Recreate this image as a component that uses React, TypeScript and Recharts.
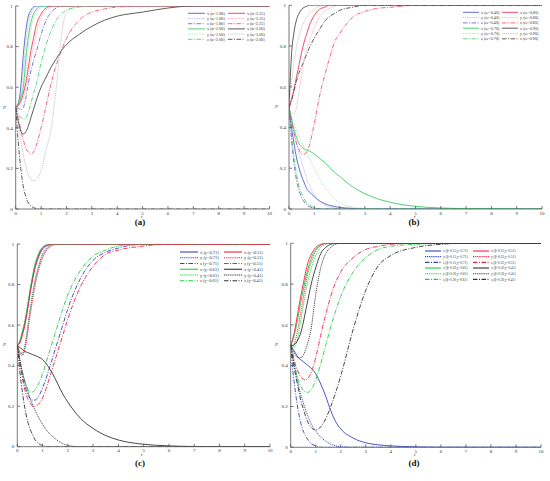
import React from 'react';
import { LineChart, Line, XAxis, YAxis, Legend } from 'recharts';

const T = [0, 0.1, 0.2, 0.3, 0.4, 0.5, 0.6, 0.7, 0.8, 1, 1.2, 1.4, 1.6, 1.8, 2, 2.5, 3, 3.5, 4, 5, 6, 7, 8, 10];
const X_TICKS = [0, 1, 2, 3, 4, 5, 6, 7, 8, 9, 10];
const Y_TICKS = [0, 0.2, 0.4, 0.6, 0.8, 1];

// Panel (a)
const aX180 = [0.5, 0.52, 0.6, 0.76, 0.88, 0.95, 0.98, 0.995, 1, 1, 1, 1, 1, 1, 1, 1, 1, 1, 1, 1, 1, 1, 1, 1];
const aY180 = [0.5, 0.51, 0.56, 0.68, 0.82, 0.91, 0.96, 0.985, 0.995, 1, 1, 1, 1, 1, 1, 1, 1, 1, 1, 1, 1, 1, 1, 1];
const aZ180 = [0.5, 0.495, 0.49, 0.5, 0.55, 0.62, 0.68, 0.73, 0.77, 0.86, 0.93, 0.97, 0.99, 1, 1, 1, 1, 1, 1, 1, 1, 1, 1, 1];
const aX200 = [0.5, 0.52, 0.55, 0.6, 0.74, 0.85, 0.92, 0.96, 0.98, 1, 1, 1, 1, 1, 1, 1, 1, 1, 1, 1, 1, 1, 1, 1];
const aY200 = [0.5, 0.51, 0.54, 0.58, 0.68, 0.8, 0.89, 0.94, 0.97, 0.99, 1, 1, 1, 1, 1, 1, 1, 1, 1, 1, 1, 1, 1, 1];
const aZ200 = [0.5, 0.47, 0.45, 0.445, 0.45, 0.48, 0.52, 0.57, 0.61, 0.72, 0.81, 0.88, 0.93, 0.96, 0.98, 0.995, 1, 1, 1, 1, 1, 1, 1, 1];
const aX225 = [0.5, 0.51, 0.53, 0.57, 0.62, 0.7, 0.78, 0.84, 0.9, 0.96, 0.99, 1, 1, 1, 1, 1, 1, 1, 1, 1, 1, 1, 1, 1];
const aY225 = [0.5, 0.5, 0.52, 0.55, 0.6, 0.66, 0.74, 0.8, 0.86, 0.94, 0.98, 0.995, 1, 1, 1, 1, 1, 1, 1, 1, 1, 1, 1, 1];
const aZ225 = [0.5, 0.45, 0.39, 0.34, 0.3, 0.28, 0.27, 0.28, 0.31, 0.4, 0.51, 0.62, 0.71, 0.78, 0.84, 0.93, 0.97, 0.985, 0.995, 1, 1, 1, 1, 1];
const aX300 = [0.5, 0.43, 0.385, 0.37, 0.38, 0.41, 0.45, 0.49, 0.53, 0.6, 0.65, 0.7, 0.74, 0.78, 0.81, 0.86, 0.9, 0.93, 0.95, 0.97, 0.99, 1, 1, 1];
const aY300 = [0.5, 0.42, 0.34, 0.27, 0.21, 0.17, 0.145, 0.14, 0.145, 0.19, 0.29, 0.4, 0.6, 0.85, 0.97, 1, 1, 1, 1, 1, 1, 1, 1, 1];
const aZ300 = [0.5, 0.33, 0.2, 0.11, 0.06, 0.03, 0.015, 0.007, 0.003, 0, 0, 0, 0, 0, 0, 0, 0, 0, 0, 0, 0, 0, 0, 0];
const aLabels = ['x (α=1.80)', 'y (α=1.80)', 'z (α=1.80)', 'x (α=2.00)', 'y (α=2.00)', 'z (α=2.00)', 'x (α=2.25)', 'y (α=2.25)', 'z (α=2.25)', 'x (α=3.00)', 'y (α=3.00)', 'z (α=3.00)'];

// Panel (b)
const bX40 = [0.5, 0.4, 0.32, 0.25, 0.2, 0.16, 0.13, 0.1, 0.085, 0.06, 0.04, 0.027, 0.018, 0.012, 0.008, 0.003, 0, 0, 0, 0, 0, 0, 0, 0];
const bY40 = [0.5, 0.44, 0.38, 0.32, 0.27, 0.23, 0.19, 0.15, 0.12, 0.07, 0.04, 0.02, 0.01, 0.004, 0, 0, 0, 0, 0, 0, 0, 0, 0, 0];
const bZ40 = [0.5, 0.34, 0.22, 0.14, 0.09, 0.055, 0.035, 0.02, 0.012, 0.004, 0, 0, 0, 0, 0, 0, 0, 0, 0, 0, 0, 0, 0, 0];
const bX70 = [0.5, 0.44, 0.39, 0.35, 0.32, 0.305, 0.295, 0.29, 0.285, 0.27, 0.25, 0.23, 0.205, 0.18, 0.16, 0.11, 0.075, 0.05, 0.033, 0.013, 0.005, 0.002, 0.001, 0];
const bY70 = [0.5, 0.46, 0.42, 0.39, 0.36, 0.33, 0.3, 0.27, 0.25, 0.2, 0.15, 0.11, 0.08, 0.05, 0.03, 0.01, 0.003, 0, 0, 0, 0, 0, 0, 0];
const bZ70 = [0.5, 0.36, 0.25, 0.17, 0.11, 0.075, 0.05, 0.03, 0.02, 0.007, 0.002, 0, 0, 0, 0, 0, 0, 0, 0, 0, 0, 0, 0, 0];
const bX80 = [0.5, 0.54, 0.59, 0.65, 0.71, 0.77, 0.82, 0.86, 0.9, 0.95, 0.98, 0.99, 1, 1, 1, 1, 1, 1, 1, 1, 1, 1, 1, 1];
const bY80 = [0.5, 0.47, 0.47, 0.5, 0.58, 0.66, 0.73, 0.78, 0.82, 0.89, 0.94, 0.97, 0.985, 0.995, 1, 1, 1, 1, 1, 1, 1, 1, 1, 1];
const bZ80 = [0.5, 0.43, 0.37, 0.32, 0.29, 0.27, 0.27, 0.28, 0.31, 0.42, 0.55, 0.65, 0.74, 0.82, 0.86, 0.94, 0.97, 0.985, 0.99, 1, 1, 1, 1, 1];
const bX90 = [0.5, 0.76, 0.87, 0.93, 0.96, 0.98, 0.99, 0.995, 1, 1, 1, 1, 1, 1, 1, 1, 1, 1, 1, 1, 1, 1, 1, 1];
const bY90 = [0.5, 0.62, 0.72, 0.8, 0.85, 0.89, 0.92, 0.94, 0.96, 0.98, 0.995, 1, 1, 1, 1, 1, 1, 1, 1, 1, 1, 1, 1, 1];
const bZ90 = [0.5, 0.53, 0.58, 0.63, 0.67, 0.7, 0.73, 0.76, 0.79, 0.84, 0.88, 0.92, 0.945, 0.96, 0.975, 0.99, 1, 1, 1, 1, 1, 1, 1, 1];
const bLabels = ['x (ω=0.40)', 'y (ω=0.40)', 'z (ω=0.40)', 'x (ω=0.70)', 'y (ω=0.70)', 'z (ω=0.70)', 'x (ω=0.80)', 'y (ω=0.80)', 'z (ω=0.80)', 'x (ω=0.90)', 'y (ω=0.90)', 'z (ω=0.90)'];

// Panel (c)
const cX71 = [0.5, 0.52, 0.56, 0.61, 0.68, 0.76, 0.83, 0.89, 0.93, 0.98, 0.995, 1, 1, 1, 1, 1, 1, 1, 1, 1, 1, 1, 1, 1];
const cY71 = [0.5, 0.47, 0.46, 0.5, 0.58, 0.67, 0.75, 0.82, 0.87, 0.95, 0.985, 1, 1, 1, 1, 1, 1, 1, 1, 1, 1, 1, 1, 1];
const cZ71 = [0.5, 0.42, 0.35, 0.3, 0.26, 0.24, 0.23, 0.23, 0.24, 0.29, 0.36, 0.44, 0.52, 0.6, 0.68, 0.83, 0.92, 0.96, 0.98, 1, 1, 1, 1, 1];
const cX61 = [0.5, 0.52, 0.57, 0.62, 0.69, 0.77, 0.84, 0.9, 0.94, 0.985, 0.997, 1, 1, 1, 1, 1, 1, 1, 1, 1, 1, 1, 1, 1];
const cY61 = [0.5, 0.465, 0.455, 0.49, 0.57, 0.66, 0.74, 0.81, 0.86, 0.94, 0.98, 0.995, 1, 1, 1, 1, 1, 1, 1, 1, 1, 1, 1, 1];
const cZ61 = [0.5, 0.43, 0.37, 0.32, 0.29, 0.27, 0.27, 0.28, 0.3, 0.36, 0.44, 0.52, 0.6, 0.68, 0.75, 0.87, 0.94, 0.97, 0.99, 1, 1, 1, 1, 1];
const cX51 = [0.5, 0.51, 0.55, 0.6, 0.67, 0.75, 0.82, 0.88, 0.92, 0.975, 0.993, 1, 1, 1, 1, 1, 1, 1, 1, 1, 1, 1, 1, 1];
const cY51 = [0.5, 0.46, 0.45, 0.48, 0.55, 0.64, 0.72, 0.79, 0.85, 0.93, 0.975, 0.993, 1, 1, 1, 1, 1, 1, 1, 1, 1, 1, 1, 1];
const cZ51 = [0.5, 0.42, 0.34, 0.28, 0.24, 0.22, 0.2, 0.2, 0.205, 0.24, 0.31, 0.39, 0.47, 0.55, 0.63, 0.79, 0.89, 0.95, 0.97, 0.99, 1, 1, 1, 1];
const cX41 = [0.5, 0.49, 0.48, 0.47, 0.465, 0.46, 0.455, 0.45, 0.445, 0.43, 0.4, 0.36, 0.31, 0.26, 0.22, 0.14, 0.09, 0.055, 0.033, 0.012, 0.004, 0.001, 0, 0];
const cY41 = [0.5, 0.43, 0.37, 0.32, 0.28, 0.24, 0.21, 0.18, 0.155, 0.11, 0.075, 0.05, 0.03, 0.015, 0.006, 0, 0, 0, 0, 0, 0, 0, 0, 0];
const cZ41 = [0.5, 0.37, 0.27, 0.19, 0.13, 0.09, 0.06, 0.035, 0.02, 0.006, 0, 0, 0, 0, 0, 0, 0, 0, 0, 0, 0, 0, 0, 0];
const cLabels = ['x (γ=0.71)', 'y (γ=0.71)', 'z (γ=0.71)', 'x (γ=0.61)', 'y (γ=0.61)', 'z (γ=0.61)', 'x (γ=0.51)', 'y (γ=0.51)', 'z (γ=0.51)', 'x (γ=0.41)', 'y (γ=0.41)', 'z (γ=0.41)'];

// Panel (d)
const dX15 = [0.5, 0.48, 0.46, 0.44, 0.43, 0.42, 0.41, 0.4, 0.39, 0.36, 0.31, 0.25, 0.18, 0.125, 0.09, 0.045, 0.022, 0.012, 0.007, 0.002, 0, 0, 0, 0];
const dY15 = [0.5, 0.43, 0.37, 0.31, 0.26, 0.22, 0.18, 0.15, 0.12, 0.08, 0.05, 0.03, 0.015, 0.007, 0.003, 0, 0, 0, 0, 0, 0, 0, 0, 0];
const dZ15 = [0.5, 0.36, 0.26, 0.18, 0.12, 0.08, 0.055, 0.035, 0.02, 0.007, 0, 0, 0, 0, 0, 0, 0, 0, 0, 0, 0, 0, 0, 0];
const dX20 = [0.5, 0.53, 0.58, 0.64, 0.71, 0.77, 0.83, 0.88, 0.92, 0.97, 0.99, 1, 1, 1, 1, 1, 1, 1, 1, 1, 1, 1, 1, 1];
const dY20 = [0.5, 0.49, 0.5, 0.55, 0.62, 0.69, 0.76, 0.82, 0.87, 0.94, 0.98, 0.995, 1, 1, 1, 1, 1, 1, 1, 1, 1, 1, 1, 1];
const dZ20 = [0.5, 0.44, 0.38, 0.33, 0.3, 0.28, 0.27, 0.27, 0.28, 0.33, 0.41, 0.5, 0.59, 0.67, 0.74, 0.86, 0.93, 0.97, 0.985, 0.995, 1, 1, 1, 1];
const dX25 = [0.5, 0.54, 0.6, 0.67, 0.74, 0.8, 0.86, 0.91, 0.94, 0.98, 0.995, 1, 1, 1, 1, 1, 1, 1, 1, 1, 1, 1, 1, 1];
const dY25 = [0.5, 0.5, 0.53, 0.59, 0.66, 0.73, 0.8, 0.86, 0.9, 0.96, 0.99, 1, 1, 1, 1, 1, 1, 1, 1, 1, 1, 1, 1, 1];
const dZ25 = [0.5, 0.45, 0.4, 0.37, 0.345, 0.335, 0.33, 0.34, 0.36, 0.44, 0.55, 0.65, 0.74, 0.81, 0.86, 0.93, 0.97, 0.985, 0.995, 1, 1, 1, 1, 1];
const dX30 = [0.5, 0.5, 0.51, 0.53, 0.56, 0.61, 0.67, 0.73, 0.79, 0.88, 0.95, 0.98, 0.995, 1, 1, 1, 1, 1, 1, 1, 1, 1, 1, 1];
const dY30 = [0.5, 0.47, 0.45, 0.44, 0.44, 0.45, 0.48, 0.52, 0.57, 0.75, 0.88, 0.95, 0.98, 0.995, 1, 1, 1, 1, 1, 1, 1, 1, 1, 1];
const dZ30 = [0.5, 0.42, 0.35, 0.29, 0.23, 0.19, 0.15, 0.12, 0.1, 0.085, 0.1, 0.14, 0.2, 0.27, 0.35, 0.58, 0.77, 0.89, 0.94, 0.98, 0.995, 1, 1, 1];
const dLabels = ['x (β=0.15,γ=0.71)', 'y (β=0.15,γ=0.71)', 'z (β=0.15,γ=0.71)', 'x (β=0.20,γ=0.61)', 'y (β=0.20,γ=0.61)', 'z (β=0.20,γ=0.61)', 'x (β=0.25,γ=0.51)', 'y (β=0.25,γ=0.51)', 'z (β=0.25,γ=0.51)', 'x (β=0.30,γ=0.41)', 'y (β=0.30,γ=0.41)', 'z (β=0.30,γ=0.41)'];

const FONT = '"Liberation Serif", "DejaVu Serif", serif';
const SOLID = undefined;
const DOT = '1.2 0.9';
const DASHDOT = '4.5 1.5 1 1.5';

const lightColors = {
  x1: '#3a49c4', y1: '#a9b1ee', z1: '#5b55d0',
  x2: '#22c84a', y2: '#93e9b6', z2: '#2fcf60',
  x3: '#e8233c', y3: '#f5a3b5', z3: '#ef3f63',
  x4: '#333333', y4: '#b8b8b8', z4: '#333333',
};
const fullColors = ['#3344bb', '#22cc44', '#ee2244', '#333333'];

function lightSeries(vals, labels) {
  const c = lightColors;
  const cols = [c.x1, c.y1, c.z1, c.x2, c.y2, c.z2, c.x3, c.y3, c.z3, c.x4, c.y4, c.z4];
  const dashes = [SOLID, DOT, DASHDOT];
  return vals.map((v, i) => ({ key: 's' + i, name: labels[i], color: cols[i], dash: dashes[i % 3], values: v }));
}
function fullSeries(vals, labels) {
  const dashes = [SOLID, DOT, DASHDOT];
  return vals.map((v, i) => ({ key: 's' + i, name: labels[i], color: fullColors[Math.floor(i / 3)], dash: dashes[i % 3], values: v }));
}

const seriesA = lightSeries([aX180, aY180, aZ180, aX200, aY200, aZ200, aX225, aY225, aZ225, aX300, aY300, aZ300], aLabels);
const seriesB = lightSeries([bX40, bY40, bZ40, bX70, bY70, bZ70, bX80, bY80, bZ80, bX90, bY90, bZ90], bLabels);
const seriesC = fullSeries([cX71, cY71, cZ71, cX61, cY61, cZ61, cX51, cY51, cZ51, cX41, cY41, cZ41], cLabels);
const seriesD = fullSeries([dX15, dY15, dZ15, dX20, dY20, dZ20, dX25, dY25, dZ25, dX30, dY30, dZ30], dLabels);

function makeRows(series) {
  return T.map((t, i) => {
    const r = { t };
    series.forEach((s) => { r[s.key] = s.values[i]; });
    return r;
  });
}

function LegendBox({ series, geo }) {
  const rows = 6;
  return (
    <svg width={geo.w} height={geo.h} style={{ display: 'block', overflow: 'visible' }}>
      {series.map((s, i) => {
        const col = Math.floor(i / rows);
        const row = i % rows;
        const lx = col === 0 ? geo.l1 : geo.l2;
        const y = geo.y0 + row * geo.gap;
        return (
          <g key={s.key}>
            <line x1={lx} x2={lx + geo.len} y1={y} y2={y} stroke={s.color} strokeWidth={geo.lw} strokeDasharray={s.dash} />
            <text x={lx + geo.len + 2} y={y} dy="0.35em" fontSize={geo.fs} fontFamily={FONT} fill="#333">{s.name}</text>
          </g>
        );
      })}
    </svg>
  );
}

function Panel({ left, top, width, height, margin, yw, xh, series, geo, lw, tag, tagX, tagY, pX, tX, tY }) {
  const data = makeRows(series);
  const axisStroke = '#555';
  const tickStyle = { fontSize: 5, fill: '#333', fontFamily: FONT };
  return (
    <div style={{ position: 'absolute', left, top, width, height }}>
      <LineChart width={width} height={height} data={data} margin={margin}>
        <XAxis dataKey="t" type="number" domain={[0, 10]} ticks={X_TICKS} allowDataOverflow
          height={xh} tickSize={-3} tickMargin={5} stroke={axisStroke} strokeWidth={0.8} tick={tickStyle} interval={0} />
        <XAxis xAxisId="top" orientation="top" type="number" domain={[0, 10]} ticks={X_TICKS} height={0}
          tickSize={-3} tickFormatter={() => ''} stroke={axisStroke} strokeWidth={0.8} interval={0} />
        <YAxis type="number" domain={[0, 1]} ticks={Y_TICKS} allowDataOverflow width={yw}
          tickSize={-3} tickMargin={6} stroke={axisStroke} strokeWidth={0.8} tick={tickStyle} interval={0} />
        <YAxis yAxisId="right" orientation="right" type="number" domain={[0, 1]} ticks={Y_TICKS} width={0}
          tickSize={-3} tickFormatter={() => ''} stroke={axisStroke} strokeWidth={0.8} interval={0} />
        {series.map((s) => (
          <Line key={s.key} dataKey={s.key} name={s.name} type="monotone" stroke={s.color} strokeWidth={lw}
            strokeDasharray={s.dash} dot={false} activeDot={false} isAnimationActive={false} />
        ))}
        <Legend layout="vertical" align="center" verticalAlign="middle"
          wrapperStyle={{ position: 'absolute', left: geo.x, top: geo.y, width: geo.w, height: geo.h, margin: 0, padding: 0 }}
          content={() => <LegendBox series={series} geo={geo} />} />
      </LineChart>
      <div style={{ position: 'absolute', left: pX - 3, top: (margin.top + (height - xh - margin.bottom)) / 2 - 3, fontSize: 5, fontStyle: 'italic', fontFamily: FONT, color: '#333', lineHeight: '6px' }}>P</div>
      <div style={{ position: 'absolute', left: tX - 2, top: tY - 3, fontSize: 5, fontStyle: 'italic', fontFamily: FONT, color: '#333', lineHeight: '6px' }}>t</div>
      <div style={{ position: 'absolute', left: tagX - 20, width: 40, textAlign: 'center', top: tagY - 5, fontSize: 9, fontWeight: 'bold', fontFamily: FONT, color: '#111', lineHeight: '10px' }}>{tag}</div>
    </div>
  );
}

export default function App() {
  return (
    <div style={{ position: 'absolute', left: 0, top: 0, width: 550, height: 481, background: '#fff', overflow: 'hidden' }}>
      <Panel left={0} top={0} width={276} height={230} margin={{ top: 6, right: 6.5, left: 0, bottom: 0 }} yw={15.7} xh={21}
        series={seriesA} lw={0.8} tag="(a)" tagX={140} tagY={222} pX={6} tX={143} tY={217}
        geo={{ x: 186, y: 10, w: 88, h: 34, l1: 2, l2: 42, len: 17, y0: 3.3, gap: 5.2, fs: 4.2, lw: 0.8 }} />
      <Panel left={272} top={0} width={276} height={230} margin={{ top: 5.3, right: 6, left: 0, bottom: 0 }} yw={17} xh={21}
        series={seriesB} lw={0.8} tag="(b)" tagX={142} tagY={222} pX={6} tX={144} tY={217}
        geo={{ x: 188.7, y: 9, w: 88, h: 34, l1: 2, l2: 41, len: 16, y0: 3.3, gap: 5.3, fs: 4.2, lw: 0.8 }} />
      <Panel left={0} top={238} width={276} height={230} margin={{ top: 6, right: 6, left: 0, bottom: 0 }} yw={17.3} xh={21.3}
        series={seriesC} lw={0.9} tag="(c)" tagX={140} tagY={225} pX={6} tX={143} tY={217}
        geo={{ x: 178, y: 10, w: 96, h: 36, l1: 2, l2: 46, len: 18, y0: 4, gap: 5.75, fs: 4.5, lw: 1.1 }} />
      <Panel left={272} top={238} width={276} height={230} margin={{ top: 5.3, right: 7, left: 0, bottom: 0 }} yw={18.7} xh={20.7}
        series={seriesD} lw={0.9} tag="(d)" tagX={142} tagY={225} pX={6} tX={144} tY={217}
        geo={{ x: 151, y: 9, w: 120, h: 36, l1: 2, l2: 50, len: 16, y0: 4, gap: 5.67, fs: 3.4, lw: 1.1 }} />
    </div>
  );
}
